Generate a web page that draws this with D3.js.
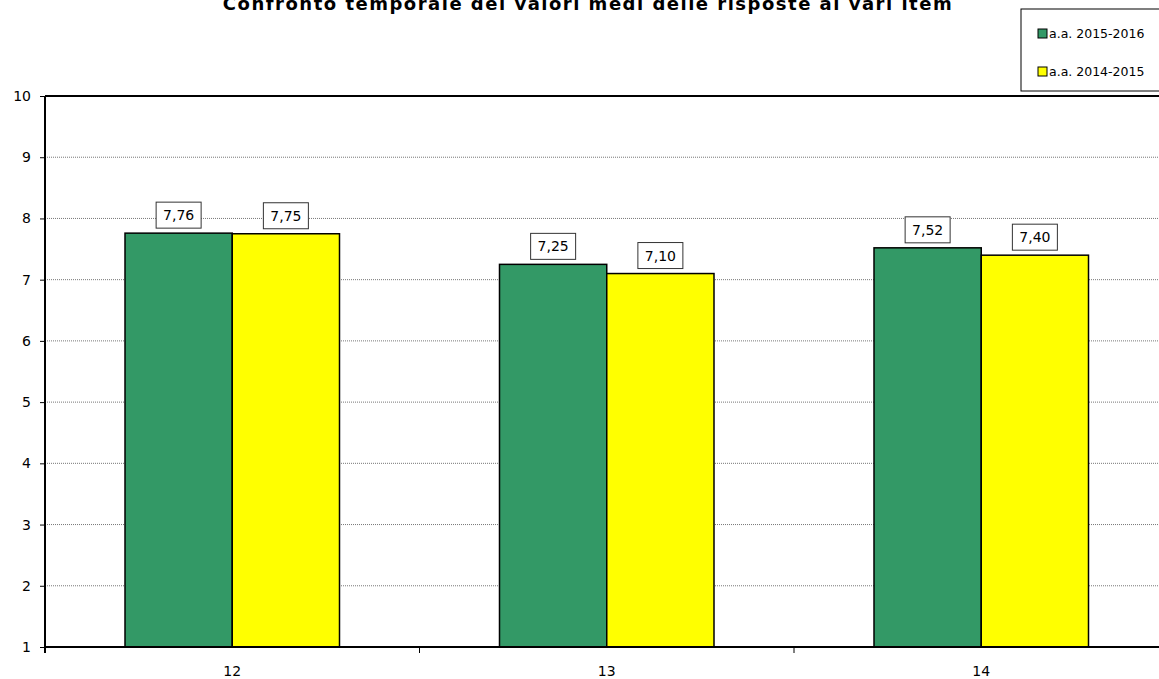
<!DOCTYPE html>
<html>
<head>
<meta charset="utf-8">
<script src="https://cdn.jsdelivr.net/npm/d3@7"></script>
<style>
  body { margin: 0; background: #fff; }
  svg { font-family: "Comic Sans MS", "DejaVu Sans", sans-serif; }
</style>
</head>
<body>
<div id="chart"></div>
<script>
// data
var items = ["12", "13", "14"];
var seriesNames = ["a.a. 2015-2016", "a.a. 2014-2015"];
var values2016 = [7.76, 7.25, 7.52];
var values2015 = [7.75, 7.10, 7.40];
var yTicks = [1, 2, 3, 4, 5, 6, 7, 8, 9, 10];
var colors = ["#339966", "#ffff00"];

var width = 1159, height = 679;
var plotLeft = 45, plotTop = 96, plotBottom = 647;
var bandW = 374.5;   // plot runs off the right edge
var sideGap = 80;    // space either side of a bar pair

var svg = d3.select("#chart").append("svg")
    .attr("width", width)
    .attr("height", height);

var x = d3.scaleBand()
    .domain(items)
    .range([plotLeft, plotLeft + bandW * items.length]);

var xInner = d3.scaleBand()
    .domain([0, 1])
    .range([sideGap, x.bandwidth() - sideGap]);

var y = d3.scaleLinear()
    .domain([1, 10])
    .range([plotBottom, plotTop]);

// title (top is cut off in the original)
svg.append("text")
  .attr("x", 588)
  .attr("y", 10)
  .attr("text-anchor", "middle")
  .attr("font-size", 18)
  .attr("font-weight", "bold")
  .attr("letter-spacing", 1.5)
  .text("Confronto temporale dei valori medi delle risposte ai vari item");

// grid lines
svg.append("g")
  .selectAll("line")
  .data(yTicks.filter(function(d) { return d > 1 && d < 10; }))
  .join("line")
    .attr("x1", plotLeft)
    .attr("x2", width)
    .attr("y1", function(d) { return y(d); })
    .attr("y2", function(d) { return y(d); })
    .attr("stroke", "#777")
    .attr("stroke-width", 1)
    .attr("stroke-dasharray", "1,1");

// top border of plot area
svg.append("line")
  .attr("x1", plotLeft).attr("x2", width)
  .attr("y1", y(10)).attr("y2", y(10))
  .attr("stroke", "#000").attr("stroke-width", 2);

// bars
var data = items.map(function(d, i) {
  return { item: d, vals: [values2016[i], values2015[i]] };
});

var groups = svg.append("g")
  .selectAll("g")
  .data(data)
  .join("g")
    .attr("transform", function(d) { return "translate(" + x(d.item) + ",0)"; });

groups.selectAll("rect")
  .data(function(d) { return d.vals; })
  .join("rect")
    .attr("x", function(d, i) { return xInner(i); })
    .attr("y", function(d) { return y(d); })
    .attr("width", xInner.bandwidth())
    .attr("height", function(d) { return y(1) - y(d); })
    .attr("fill", function(d, i) { return colors[i]; })
    .attr("stroke", "#000")
    .attr("stroke-width", 1.5);

// value labels in boxes
var fmt = function(v) { return v.toFixed(2).replace(".", ","); };
var labels = groups.selectAll("g.lab")
  .data(function(d) { return d.vals; })
  .join("g")
    .attr("class", "lab")
    .attr("transform", function(d, i) {
      return "translate(" + (xInner(i) + xInner.bandwidth() / 2) + "," + (y(d) - 18) + ")";
    });

labels.append("rect")
  .attr("x", -22.5)
  .attr("y", -13)
  .attr("width", 45)
  .attr("height", 26)
  .attr("fill", "#fff")
  .attr("stroke", "#333")
  .attr("stroke-width", 1);

labels.append("text")
  .attr("text-anchor", "middle")
  .attr("dy", "0.36em")
  .attr("font-size", 14)
  .text(function(d) { return fmt(d); });

// y axis
var yAxis = svg.append("g")
  .attr("transform", "translate(" + plotLeft + ",0)")
  .call(d3.axisLeft(y).tickValues(yTicks).tickSize(5).tickPadding(9).tickFormat(d3.format("d")));
yAxis.select(".domain").remove();
yAxis.selectAll(".tick line").attr("stroke", "#000");
yAxis.selectAll("text").attr("font-size", 14).attr("fill", "#000")
  .attr("font-family", "\"Comic Sans MS\", \"DejaVu Sans\", sans-serif");

// x axis
var xAxis = svg.append("g")
  .attr("transform", "translate(0," + plotBottom + ")")
  .call(d3.axisBottom(x).tickSize(0).tickPadding(19));
xAxis.select(".domain").remove();
xAxis.selectAll("text").attr("font-size", 14).attr("fill", "#000")
  .attr("font-family", "\"Comic Sans MS\", \"DejaVu Sans\", sans-serif");

svg.append("line")
  .attr("x1", plotLeft).attr("x2", width)
  .attr("y1", plotBottom).attr("y2", plotBottom)
  .attr("stroke", "#000").attr("stroke-width", 2);

// tick marks between categories
svg.append("g")
  .selectAll("line")
  .data(items)
  .join("line")
    .attr("x1", function(d) { return x(d) + x.bandwidth(); })
    .attr("x2", function(d) { return x(d) + x.bandwidth(); })
    .attr("y1", plotBottom)
    .attr("y2", plotBottom + 6)
    .attr("stroke", "#000");

// left axis line
svg.append("line")
  .attr("x1", plotLeft).attr("x2", plotLeft)
  .attr("y1", plotTop).attr("y2", plotBottom + 6)
  .attr("stroke", "#000").attr("stroke-width", 2);

// legend
var legend = svg.append("g").attr("transform", "translate(1021,9)");
legend.append("rect")
  .attr("width", 145)
  .attr("height", 82)
  .attr("fill", "#fff")
  .attr("stroke", "#000")
  .attr("stroke-width", 1);

var li = legend.selectAll("g.li")
  .data(seriesNames)
  .join("g")
    .attr("class", "li")
    .attr("transform", function(d, i) { return "translate(17," + (20 + i * 38) + ")"; });

li.append("rect")
  .attr("width", 9)
  .attr("height", 9)
  .attr("fill", function(d, i) { return colors[i]; })
  .attr("stroke", "#000")
  .attr("stroke-width", 1);

li.append("text")
  .attr("x", 11)
  .attr("y", 9)
  .attr("font-size", 12.5)
  .text(function(d) { return d; });
</script>
</body>
</html>
